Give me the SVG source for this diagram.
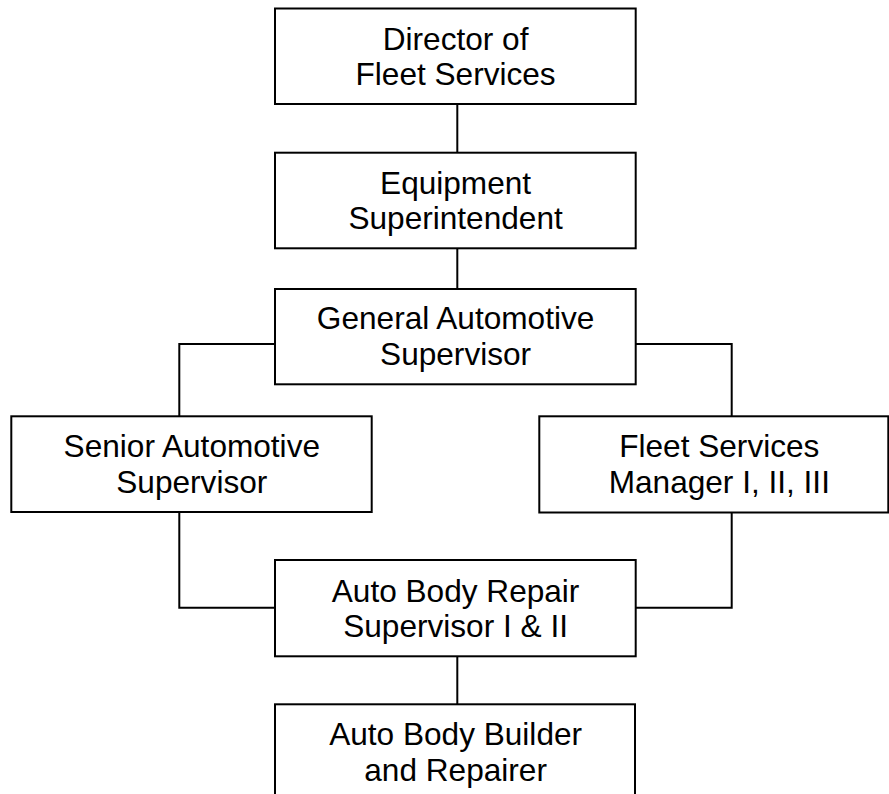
<svg xmlns="http://www.w3.org/2000/svg" width="889" height="794" viewBox="0 0 889 794">
<style>
rect.box{fill:#fff;stroke:#000;stroke-width:2}
.c path{fill:none;stroke:#000;stroke-width:2}
text{font-family:"Liberation Sans",Arial,sans-serif;font-size:31.6px;fill:#000;text-anchor:middle}
</style>
<rect width="889" height="794" fill="#fff"/>
<g class="c" id="connectors">
<path d="M457.3,104 V152.7"/>
<path d="M457.3,248.3 V289"/>
<path d="M275,344 H179.3 V416.3"/>
<path d="M635.7,344 H731.7 V416.3"/>
<path d="M179.3,512 V607.7 H275"/>
<path d="M731.7,512.7 V607.7 H635.7"/>
<path d="M457.3,656.3 V704.3"/>
</g>
<g id="director">
<rect class="box" x="275" y="8.5" width="360.7" height="95.5"/>
<text x="455.6" y="49.5">Director of</text>
<text x="455.6" y="84.5">Fleet Services</text>
</g>
<g id="equipment">
<rect class="box" x="275" y="152.7" width="360.7" height="95.6"/>
<text x="455.6" y="193.5">Equipment</text>
<text x="455.6" y="229">Superintendent</text>
</g>
<g id="general">
<rect class="box" x="275" y="289" width="360.7" height="95.3"/>
<text x="455.6" y="329">General Automotive</text>
<text x="455.6" y="364.5">Supervisor</text>
</g>
<g id="senior">
<rect class="box" x="11.3" y="416.3" width="360.4" height="95.7"/>
<text x="191.8" y="457">Senior Automotive</text>
<text x="191.8" y="492.5">Supervisor</text>
</g>
<g id="fleet">
<rect class="box" x="539.3" y="416.3" width="349" height="96.2"/>
<text x="719.3" y="457">Fleet Services</text>
<text x="719.3" y="492.5">Manager I, II, III</text>
</g>
<g id="repair-supervisor">
<rect class="box" x="275" y="560" width="360.7" height="96.3"/>
<text x="455.6" y="601.5">Auto Body Repair</text>
<text x="455.6" y="637">Supervisor I &amp; II</text>
</g>
<g id="builder">
<rect class="box" x="275" y="704.3" width="360" height="100"/>
<text x="455.6" y="745">Auto Body Builder</text>
<text x="455.6" y="781">and Repairer</text>
</g>
</svg>
